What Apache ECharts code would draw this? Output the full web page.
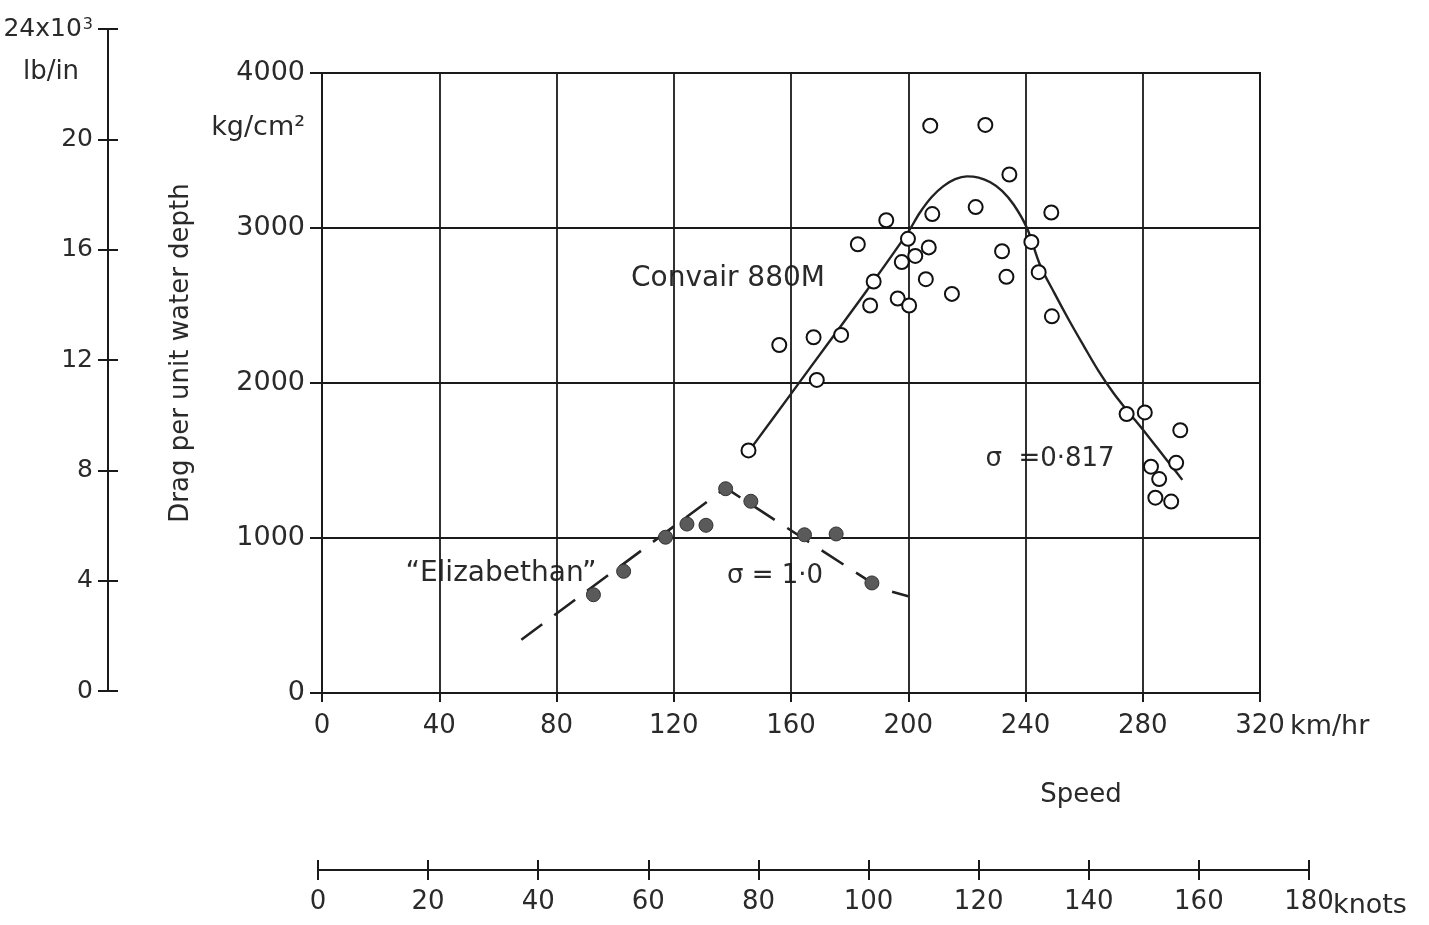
<!DOCTYPE html>
<html>
<head>
<meta charset="utf-8">
<script src="https://cdn.jsdelivr.net/npm/echarts@6/dist/echarts.min.js"></script>
<style>
html,body{margin:0;padding:0;background:#fff;}
#chart{width:1429px;height:925px;}
</style>
</head>
<body>
<div id="chart"></div>
<script>
// Convair 880M measured points (km/hr, kg/cm^2)
const convairSpeed = [145.5,156,167.7,168.8,177.1,182.8,187,188.2,192.5,196.4,197.8,199.9,200.3,202.4,206,207,207.5,208.2,214.9,223,226.3,232,233.5,234.5,242,244.5,248.8,249,274.5,280.7,292.8,282.8,291.4,285.6,284.3,289.7];
const convairDrag  = [1565,2245,2295,2020,2310,2895,2500,2655,3050,2545,2780,2930,2500,2820,2670,2875,3660,3090,2575,3135,3665,2850,2685,3345,2910,2715,3100,2430,1800,1810,1695,1460,1485,1380,1260,1235];
// Convair fitted curve (sigma = 0.817)
const convairCurveSpeed = [146,160,173,186,200,204,208,212,216,220,224,228,232,236,240.5,245,250,255,260,265,270,275,280,285,290,293.5];
const convairCurveDrag  = [1570,1930,2265,2600,2975,3100,3200,3270,3315,3333,3325,3295,3240,3150,3000,2760,2575,2400,2235,2075,1935,1815,1700,1580,1460,1375];
// "Elizabethan" measured points
const elizSpeed = [92.6,102.9,117.2,124.5,131,137.7,146.3,164.6,175.4,187.6];
const elizDrag  = [634,785,1005,1090,1082,1318,1237,1021,1026,710];
// "Elizabethan" dashed curve (sigma = 1.0)
const elizCurveSpeed = [68,137.7,187.6,194,200];
const elizCurveDrag  = [344,1323,710,655,624];
// axis ranges / tick labels
const kmhTicks = {min:0, max:320, step:40, unit:'km/hr'};
const knotTicks = {min:0, max:180, step:20, unit:'knots'};
const kgTicks = {min:0, max:4000, step:1000, unit:'kg/cm²'};
const lbTicks = {min:0, max:24, step:4, unit:'lb/in', topBase:'24x10', topExp:'3'};

const FONT = 'DejaVu Sans';
const INK = '#1a1a1a';
const TXT = '#2a2a2a';

function pairs(xs, ys){ return xs.map((x,i)=>[x, ys[i]]); }
const plain = v => String(v);

const chart = echarts.init(document.getElementById('chart'), null, {renderer:'canvas'});

function txt(text, x, y, size, align, extra){
  return Object.assign({
    type:'text', x:x, y:y, silent:true,
    style:{text:text, fontSize:size, fontFamily:FONT, fill:TXT, align:align||'center', verticalAlign:'middle'}
  }, extra||{});
}
const hiddenAxis = (g)=>({gridIndex:g, type:'value', min:0, max:1, show:false});

const option = {
  animation:false,
  backgroundColor:'#fff',
  textStyle:{fontFamily:FONT},
  grid:[
    {left:322, right:169, top:73, bottom:232, show:true, borderColor:INK, borderWidth:2, backgroundColor:'transparent'},
    {left:108, width:10, top:29, bottom:234},
    {left:318, right:120, top:860, height:10}
  ],
  xAxis:[
    {gridIndex:0, type:'value', min:kmhTicks.min, max:kmhTicks.max, interval:kmhTicks.step,
     axisLine:{show:true, onZero:false, lineStyle:{color:INK, width:2}},
     axisTick:{show:true, length:9, lineStyle:{color:INK, width:2}},
     axisLabel:{fontSize:26, color:TXT, margin:20, fontFamily:FONT, formatter:plain},
     splitLine:{show:true, lineStyle:{color:INK, width:1.8}}},
    {gridIndex:2, type:'value', min:knotTicks.min, max:knotTicks.max, interval:knotTicks.step, position:'bottom',
     axisLine:{show:true, onZero:false, lineStyle:{color:INK, width:2}},
     axisTick:{show:true, length:10, lineStyle:{color:INK, width:2}},
     axisLabel:{fontSize:26, color:TXT, margin:19, fontFamily:FONT, formatter:plain},
     splitLine:{show:false}},
    {gridIndex:2, type:'value', min:knotTicks.min, max:knotTicks.max, interval:knotTicks.step, position:'bottom',
     axisLine:{show:false, onZero:false},
     axisTick:{show:true, inside:true, length:10, lineStyle:{color:INK, width:2}},
     axisLabel:{show:false}, splitLine:{show:false}},
    hiddenAxis(1)
  ],
  yAxis:[
    {gridIndex:0, type:'value', min:kgTicks.min, max:kgTicks.max, interval:kgTicks.step,
     axisLine:{show:true, onZero:false, lineStyle:{color:INK, width:2}},
     axisTick:{show:true, length:12, lineStyle:{color:INK, width:2}},
     axisLabel:{fontSize:27, color:TXT, margin:17, fontFamily:FONT, formatter:plain},
     splitLine:{show:true, lineStyle:{color:INK, width:1.8}}},
    {gridIndex:1, type:'value', min:lbTicks.min, max:lbTicks.max, interval:lbTicks.step, position:'left',
     axisLine:{show:true, onZero:false, lineStyle:{color:INK, width:2}},
     axisTick:{show:true, length:10, lineStyle:{color:INK, width:2}},
     axisLabel:{fontSize:25, color:TXT, margin:15, fontFamily:FONT,
       formatter:function(v){ return v===lbTicks.max ? '{b|'+lbTicks.topBase+'}{s|'+lbTicks.topExp+'}' : String(v); },
       rich:{
         b:{fontSize:25, fontFamily:FONT, color:TXT, padding:[0,0,0,0]},
         s:{fontSize:16, fontFamily:FONT, color:TXT, verticalAlign:'top', padding:[0,0,0,1]}
       }},
     splitLine:{show:false}},
    {gridIndex:1, type:'value', min:lbTicks.min, max:lbTicks.max, interval:lbTicks.step, position:'left',
     axisLine:{show:false, onZero:false},
     axisTick:{show:true, inside:true, length:10, lineStyle:{color:INK, width:2}},
     axisLabel:{show:false}, splitLine:{show:false}},
    hiddenAxis(2)
  ],
  series:[
    {name:'Convair curve', type:'line', xAxisIndex:0, yAxisIndex:0, data:pairs(convairCurveSpeed, convairCurveDrag),
     showSymbol:false, smooth:0.35, lineStyle:{color:'#222', width:2.4}, z:3},
    {name:'Elizabethan curve', type:'line', xAxisIndex:0, yAxisIndex:0, data:pairs(elizCurveSpeed, elizCurveDrag),
     showSymbol:false, smooth:false, lineStyle:{color:'#222', width:2.6, type:[26,15]}, z:3},
    {name:'Convair 880M', type:'scatter', xAxisIndex:0, yAxisIndex:0, data:pairs(convairSpeed, convairDrag),
     symbol:'circle', symbolSize:14, itemStyle:{color:'#fff', borderColor:'#111', borderWidth:2, opacity:1}, z:5},
    {name:'Elizabethan', type:'scatter', xAxisIndex:0, yAxisIndex:0, data:pairs(elizSpeed, elizDrag),
     symbol:'circle', symbolSize:14, itemStyle:{color:'#5a5a5a', borderColor:'#333', borderWidth:1, opacity:1}, z:5}
  ],
  graphic:[
    txt(lbTicks.unit, 51, 72, 26, 'center'),
    txt(kgTicks.unit, 305, 128, 27, 'right'),
    txt('Drag per unit water depth', 181, 353, 26, 'center', {rotation:Math.PI/2}),
    txt(kmhTicks.unit, 1290, 727, 27, 'left'),
    txt(knotTicks.unit, 1333, 906, 27, 'left'),
    txt('Speed', 1081, 795, 26, 'center'),
    txt('Convair 880M', 728, 279, 28, 'center'),
    txt('“Elizabethan”', 501, 574, 28, 'center'),
    txt('σ = 1·0', 775, 576, 26, 'center'),
    txt('σ  =0·817', 1050, 459, 26, 'center')
  ]
};
chart.setOption(option);
</script>
</body>
</html>
